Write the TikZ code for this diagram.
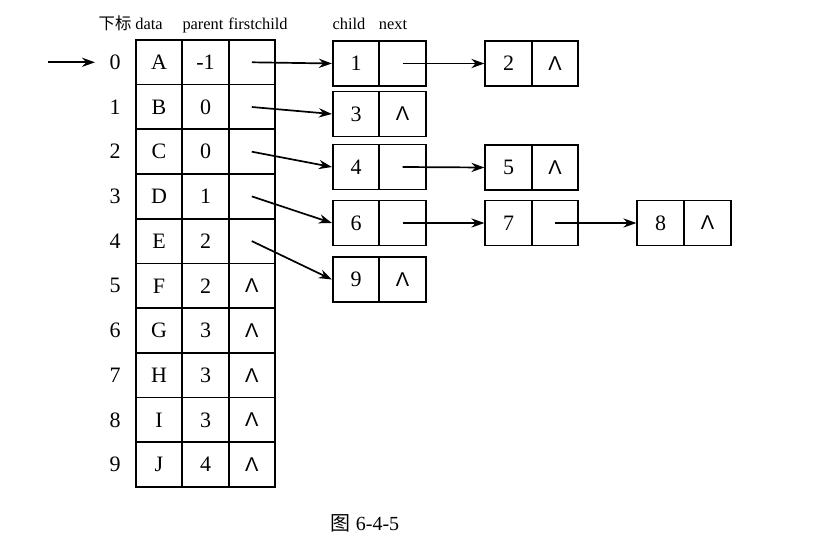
\documentclass[tikz,border=0pt]{standalone}
\usepackage{fontspec}
\setmainfont{Liberation Serif}
\newfontfamily\cjk{Noto Sans CJK SC}
\newfontfamily\nilfont{Liberation Sans}
\usepackage{tikz}
\usetikzlibrary{positioning,arrows.meta}

\newcommand{\nil}{{\nilfont\fontsize{10pt}{10pt}\selectfont Λ}}

\begin{document}
\begin{tikzpicture}[x=0.5pt, y=-0.5pt, >={Stealth[length=6.5pt,width=4.6pt]}, line width=0.85pt,
  cell/.style={draw, minimum width=23.15pt, minimum height=22.35pt, inner sep=0pt, font=\fontsize{11pt}{11pt}\selectfont},
  listcell/.style={draw, minimum width=23.25pt, minimum height=22.5pt, inner sep=0pt, font=\fontsize{11pt}{11pt}\selectfont},
  idx/.style={font=\fontsize{11pt}{11pt}\selectfont},
  head/.style={anchor=base, font=\fontsize{8.2pt}{8.2pt}\selectfont}]

\useasboundingbox (0,0) rectangle (819,551);

% 
\node[head] (hidx) at (115,30) {\cjk 下标};
\node[head] (hdata) at (149,30) {data};
\node[head] (hpar) at (203,30) {parent};
\node[head] (hfc) at (258,30) {firstchild};
\node[head] (hch) at (349,30) {child};
\node[head] (hnx) at (393,30) {next};

% 
\node[idx] (i0) at (115,62.3) {0};
\node[idx] (i1) at (115,107) {1};
\node[idx] (i2) at (115,151.7) {2};
\node[idx] (i3) at (115,196.4) {3};
\node[idx] (i4) at (115,241.1) {4};
\node[idx] (i5) at (115,285.8) {5};
\node[idx] (i6) at (115,330.5) {6};
\node[idx] (i7) at (115,375.2) {7};
\node[idx] (i8) at (115,419.9) {8};
\node[idx] (i9) at (115,464.6) {9};

% 
\node[cell] (d0) at (159,62.3) {A};
\node[cell] (d1) at (159,107) {B};
\node[cell] (d2) at (159,151.7) {C};
\node[cell] (d3) at (159,196.4) {D};
\node[cell] (d4) at (159,241.1) {E};
\node[cell] (d5) at (159,285.8) {F};
\node[cell] (d6) at (159,330.5) {G};
\node[cell] (d7) at (159,375.2) {H};
\node[cell] (d8) at (159,419.9) {I};
\node[cell] (d9) at (159,464.6) {J};

% 
\node[cell] (p0) at (205.5,62.3) {-1};
\node[cell] (p1) at (205.5,107) {0};
\node[cell] (p2) at (205.5,151.7) {0};
\node[cell] (p3) at (205.5,196.4) {1};
\node[cell] (p4) at (205.5,241.1) {2};
\node[cell] (p5) at (205.5,285.8) {2};
\node[cell] (p6) at (205.5,330.5) {3};
\node[cell] (p7) at (205.5,375.2) {3};
\node[cell] (p8) at (205.5,419.9) {3};
\node[cell] (p9) at (205.5,464.6) {4};

% 
\node[cell] (f0) at (251.8,62.3) {};
\node[cell] (f1) at (251.8,107) {};
\node[cell] (f2) at (251.8,151.7) {};
\node[cell] (f3) at (251.8,196.4) {};
\node[cell] (f4) at (251.8,241.1) {};
\node[cell] (f5) at (251.8,285.8) {\nil};
\node[cell] (f6) at (251.8,330.5) {\nil};
\node[cell] (f7) at (251.8,375.2) {\nil};
\node[cell] (f8) at (251.8,419.9) {\nil};
\node[cell] (f9) at (251.8,464.6) {\nil};

% 
\node[listcell] (c1) at (356,63.5) {1};
\node[listcell] (n1) at (402.5,63.5) {};
\node[listcell] (c2) at (508.5,63.5) {2};
\node[listcell] (n2) at (555,63.5) {\nil};
\node[listcell] (c3) at (356,114) {3};
\node[listcell] (n3) at (402.5,114) {\nil};
\node[listcell] (c4) at (356,167) {4};
\node[listcell] (n4) at (402.5,167) {};
\node[listcell] (c5) at (508.5,167.5) {5};
\node[listcell] (n5) at (555,167.5) {\nil};
\node[listcell] (c6) at (356,223) {6};
\node[listcell] (n6) at (402.5,223) {};
\node[listcell] (c7) at (508.5,223) {7};
\node[listcell] (n7) at (555,223) {};
\node[listcell] (c8) at (660.5,223) {8};
\node[listcell] (n8) at (707.5,223) {\nil};
\node[listcell] (c9) at (356,279.5) {9};
\node[listcell] (n9) at (402.5,279.5) {\nil};

% 
\coordinate (entry) at (48,62.3);
\draw[->, shorten >=3.5pt] (entry) -- (i0.west);

% 
\draw[->] (f0.center) -- (c1.west);
\draw[->] (f1.center) -- (c3.west);
\draw[->] (f2.center) -- (c4.west);
\draw[->] (f3.center) -- (c6.west);
\draw[->] (f4.center) -- (c9.west);
\draw[->] (n1.center) -- (c2.west);
\draw[->] (n4.center) -- (c5.west);
\draw[->] (n6.center) -- (c7.west);
\draw[->] (n7.center) -- (c8.west);

% 
\node[font=\fontsize{10pt}{10pt}\selectfont] (cap) at (365,523) {{\cjk 图} 6-4-5};

\end{tikzpicture}
\end{document}
